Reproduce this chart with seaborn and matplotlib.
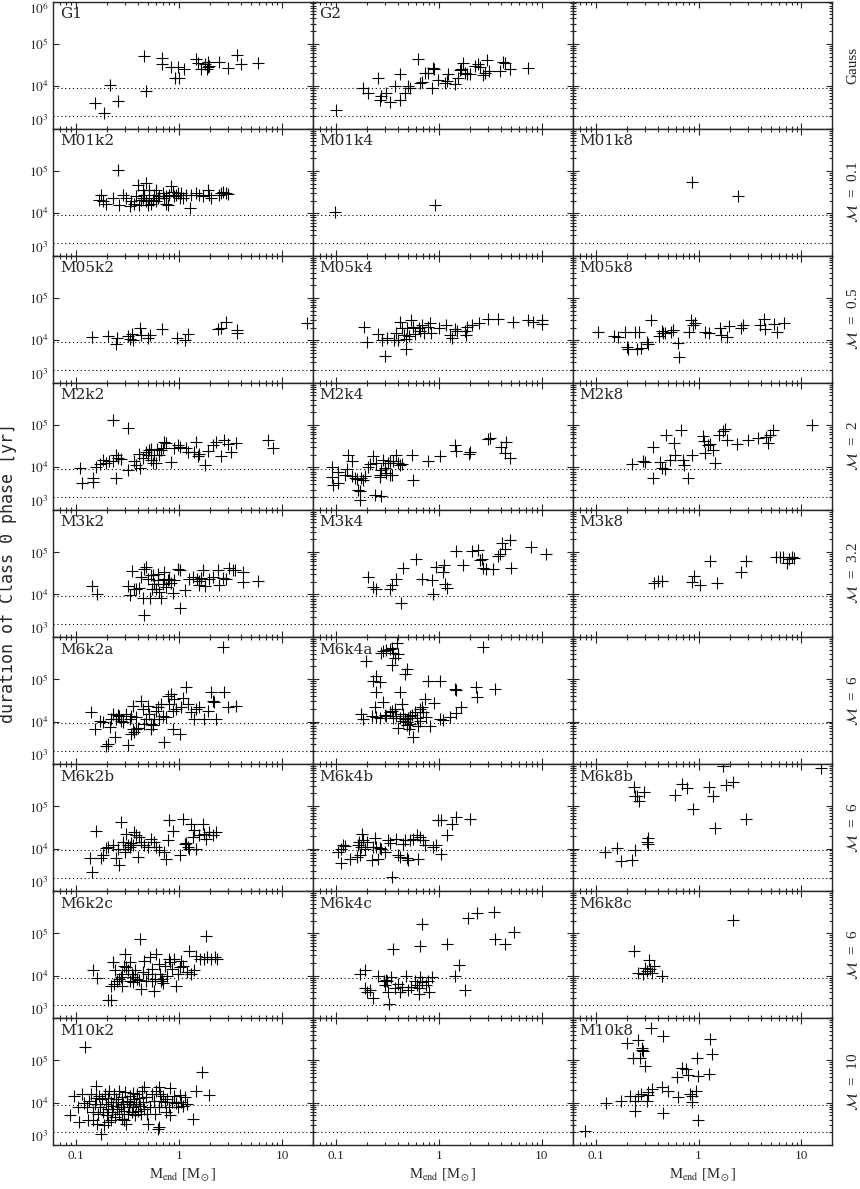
import matplotlib
matplotlib.use("Agg")
import numpy as np
import pandas as pd
import matplotlib.pyplot as plt
import seaborn as sns
from matplotlib.ticker import LogLocator, NullFormatter


# (M_end [Msun], duration [yr])

g1 = [(0.46, 5.1e4), (0.68, 4.7e4), (0.68, 3.3e4), (0.84, 2.9e4), (0.97, 2.8e4), (1.11, 2.6e4),
      (0.91, 1.6e4), (1.0, 1.6e4), (1.46, 4.3e4), (1.52, 3.6e4), (1.64, 2.5e4), (1.80, 3.3e4),
      (1.85, 2.5e4), (1.9, 2.8e4), (1.96, 3.0e4), (1.9, 3.8e4), (2.46, 3.8e4), (2.97, 2.7e4),
      (3.63, 5.4e4), (4.0, 3.4e4), (5.9, 3.6e4), (0.215, 1.07e4), (0.48, 7.6e3), (0.154, 4.0e3),
      (0.254, 4.4e3), (0.186, 2.3e3)]

g2 = [(0.1, 2.7e3), (0.184, 9.3e3), (0.206, 6.8e3), (0.258, 1.6e4), (0.277, 5.9e3), (0.27, 4.8e3),
      (0.306, 7.0e3), (0.334, 4.2e3), (0.374, 1.0e4), (0.418, 1.9e4), (0.42, 4.8e3), (0.468, 6.8e3),
      (0.50, 1.0e4), (0.52, 9.3e3), (0.63, 4.5e4), (0.65, 1.2e4), (0.68, 1.25e4), (0.73, 2.1e4),
      (0.79, 2.0e4), (0.88, 2.7e4), (0.90, 2.6e4), (0.85, 9.3e3), (0.99, 1.4e4), (1.14, 1.2e4),
      (1.19, 1.35e4), (1.23, 1.9e4), (1.45, 1.1e4), (1.54, 1.6e4), (1.66, 2.5e4), (1.72, 3.6e4),
      (1.79, 2.1e4), (1.86, 1.9e4), (2.0, 1.9e4), (2.24, 3.0e4), (2.4, 3.3e4), (2.5, 2.8e4),
      (2.7, 1.8e4), (2.8, 2.1e4), (2.95, 4.1e4), (3.1, 2.3e4), (3.9, 2.3e4), (4.2, 3.8e4),
      (4.4, 3.6e4), (4.9, 2.5e4), (7.4, 2.7e4), (1.6, 2.4e4)]

m01k2 = [(0.254, 1.05e5), (0.175, 2.7e4), (0.181, 1.9e4), (0.196, 1.7e4), (0.168, 2.1e4), (0.227, 2.3e4),
         (0.263, 1.6e4), (0.284, 2.7e4), (0.306, 2.3e4), (0.33, 1.45e4), (0.342, 1.9e4), (0.368, 1.7e4),
         (0.383, 2.5e4), (0.412, 1.6e4), (0.428, 2.1e4), (0.444, 3.6e4), (0.461, 2.7e4), (0.478, 5.1e4),
         (0.478, 1.9e4), (0.496, 1.6e4), (0.515, 2.3e4), (0.535, 1.7e4), (0.555, 2.1e4), (0.576, 2.7e4),
         (0.598, 1.9e4), (0.621, 2.3e4), (0.644, 2.5e4), (0.694, 3.0e4), (0.72, 2.3e4), (0.747, 1.7e4),
         (0.776, 1.6e4), (0.805, 2.7e4), (0.836, 4.3e4), (0.868, 3.25e4), (0.90, 2.5e4), (0.935, 2.7e4),
         (0.97, 3.0e4), (1.01, 2.3e4), (1.045, 3.0e4), (1.086, 2.3e4), (1.17, 2.7e4), (1.28, 1.35e4),
         (1.31, 2.7e4), (1.46, 3.0e4), (1.57, 2.7e4), (1.70, 2.5e4), (1.90, 3.6e4), (1.97, 2.7e4),
         (2.05, 2.35e4), (2.46, 2.7e4), (2.56, 3.0e4), (2.65, 3.25e4), (2.86, 3.0e4), (2.97, 2.8e4),
         (0.397, 4.7e4), (0.515, 3.6e4), (0.598, 3.6e4), (0.747, 2.6e4), (0.444, 2.3e4)]

m01k4 = [(0.098, 1.1e4), (0.91, 1.55e4)]

m01k8 = [(0.86, 5.6e4), (2.44, 2.6e4)]

m05k2 = [(0.143, 1.2e4), (0.202, 1.28e4), (0.242, 8.3e3), (0.248, 1.13e4), (0.318, 1.24e4), (0.331, 1.07e4),
         (0.345, 1.43e4), (0.36, 1.0e4), (0.417, 1.94e4), (0.424, 1.36e4), (0.50, 1.13e4), (0.52, 1.36e4),
         (0.684, 1.84e4), (0.95, 1.13e4), (1.14, 1.04e4), (1.22, 1.43e4), (2.4, 1.84e4), (2.55, 1.94e4),
         (2.87, 2.76e4), (3.62, 1.71e4), (3.68, 1.53e4), (17.4, 2.6e4)]

m05k4 = [(0.189, 2.04e4), (0.2, 9.0e3), (0.256, 1.43e4), (0.278, 1.0e4), (0.302, 4.2e3), (0.315, 1.13e4),
         (0.371, 1.0e4), (0.387, 1.48e4), (0.403, 1.0e4), (0.42, 2.76e4), (0.438, 1.94e4), (0.456, 1.36e4),
         (0.476, 6.1e3), (0.476, 1.07e4), (0.496, 1.94e4), (0.517, 1.24e4), (0.538, 3.0e4), (0.561, 2.1e4),
         (0.585, 1.43e4), (0.635, 1.94e4), (0.662, 1.62e4), (0.69, 2.3e4), (0.719, 1.53e4), (0.78, 2.1e4),
         (0.813, 2.53e4), (0.847, 1.48e4), (1.0, 1.94e4), (1.18, 2.3e4), (1.28, 1.36e4), (1.33, 1.13e4),
         (1.45, 1.84e4), (1.51, 1.7e4), (1.78, 1.62e4), (1.83, 1.36e4), (1.89, 2.1e4), (2.1, 2.3e4),
         (2.48, 2.53e4), (3.0, 3.2e4), (3.74, 3.2e4), (5.3, 2.76e4), (7.4, 3.1e4), (8.2, 2.76e4),
         (10.0, 3.1e4), (10.0, 2.44e4)]

m05k8 = [(0.106, 1.6e4), (0.152, 1.29e4), (0.164, 1.18e4), (0.193, 1.6e4), (0.2, 7.1e3), (0.205, 6.1e3),
         (0.241, 1.54e4), (0.25, 6.1e3), (0.264, 1.6e4), (0.276, 6.5e3), (0.313, 9.3e3), (0.32, 8.2e3),
         (0.344, 3.0e4), (0.412, 1.26e4), (0.437, 1.69e4), (0.454, 1.46e4), (0.471, 1.51e4), (0.539, 1.6e4),
         (0.568, 1.75e4), (0.635, 8.5e3), (0.644, 4.0e3), (0.806, 1.54e4), (0.843, 3.0e4), (0.921, 2.6e4),
         (0.888, 2.29e4), (1.15, 1.54e4), (1.26, 1.46e4), (1.61, 2.0e4), (1.65, 1.33e4), (1.87, 1.22e4),
         (1.97, 2.17e4), (2.61, 2.0e4), (2.71, 2.29e4), (3.94, 2.29e4), (4.34, 3.16e4), (4.41, 1.81e4),
         (5.43, 2.4e4), (5.72, 1.54e4), (6.79, 2.6e4)]

m2k2 = [(0.23, 1.31e5), (0.322, 8.7e4), (0.108, 9.6e3), (0.114, 4.3e3), (0.145, 5.6e3), (0.147, 4.5e3),
        (0.156, 1.05e4), (0.169, 1.2e4), (0.181, 1.51e4), (0.193, 1.26e4), (0.207, 1.43e4), (0.227, 1.38e4),
        (0.244, 1.91e4), (0.254, 1.66e4), (0.244, 5.6e3), (0.273, 1.6e4), (0.317, 8.8e3), (0.368, 1.43e4),
        (0.383, 1.11e4), (0.418, 9.6e3), (0.412, 2.05e4), (0.444, 1.66e4), (0.478, 2.37e4), (0.496, 1.91e4),
        (0.515, 2.59e4), (0.535, 1.51e4), (0.555, 1.26e4), (0.576, 1.98e4), (0.598, 1.26e4), (0.635, 1.98e4),
        (0.669, 2.59e4), (0.694, 2.94e4), (0.72, 4.06e4), (0.747, 3.71e4), (0.836, 1.33e4), (0.90, 2.84e4),
        (0.97, 3.4e4), (1.17, 2.84e4), (1.21, 2.29e4), (1.46, 4.06e4), (1.52, 1.81e4), (1.57, 2.05e4),
        (1.8, 1.11e4), (1.9, 2.46e4), (2.12, 3.4e4), (2.29, 4.06e4), (2.56, 1.81e4), (2.75, 4.44e4),
        (2.97, 3.52e4), (3.2, 2.37e4), (3.57, 3.71e4), (7.26, 4.44e4), (8.11, 2.94e4), (1.02, 3.05e4),
        (1.41, 2.37e4), (0.535, 2.74e4), (0.607, 2.74e4)]

m2k4 = [(0.091, 1.05e4), (0.091, 5.8e3), (0.094, 3.8e3), (0.105, 4.3e3), (0.105, 7.8e3), (0.122, 6.5e3),
        (0.127, 9.3e3), (0.132, 1.98e4), (0.142, 1.43e4), (0.145, 6.15e3), (0.153, 5.6e3), (0.159, 5.4e3),
        (0.165, 3.0e3), (0.171, 2.74e3), (0.171, 1.66e3), (0.177, 5.6e3), (0.184, 5.1e3), (0.191, 6.15e3),
        (0.206, 1.05e4), (0.214, 1.2e4), (0.23, 1.81e4), (0.239, 2.29e3), (0.248, 1.26e4), (0.267, 6.7e3),
        (0.267, 5.8e3), (0.272, 2.09e3), (0.277, 8.8e3), (0.288, 1.51e4), (0.299, 9.6e3), (0.31, 7.4e3),
        (0.322, 1.26e4), (0.334, 6.5e3), (0.347, 6.7e3), (0.334, 1.38e4), (0.36, 1.43e4), (0.383, 1.91e4),
        (0.403, 1.26e4), (0.418, 1.15e4), (0.434, 1.2e4), (0.543, 1.98e4), (0.563, 5.1e3), (0.788, 1.38e4),
        (1.02, 1.81e4), (1.43, 3.4e4), (1.48, 2.46e4), (1.97, 2.05e4), (2.0, 2.37e4), (3.01, 4.7e4),
        (3.13, 4.87e4), (4.06, 3.1e4), (4.37, 2.17e4), (4.54, 4.06e4), (4.89, 1.71e4)]

m2k8 = [(0.224, 1.18e4), (0.29, 1.41e4), (0.301, 1.33e4), (0.363, 3.05e4), (0.363, 5.7e3), (0.421, 1.33e4),
        (0.444, 9.8e3), (0.471, 9.0e3), (0.478, 5.9e4), (0.527, 1.49e4), (0.58, 3.8e4), (0.589, 2.0e4),
        (0.674, 7.5e4), (0.71, 1.49e4), (0.726, 1.11e4), (0.794, 5.7e3), (0.855, 1.91e4), (1.11, 5.6e4),
        (1.14, 4.1e4), (1.15, 2.2e4), (1.24, 3.3e4), (1.29, 3.65e4), (1.39, 2.64e4), (1.44, 1.29e4),
        (1.58, 5.9e4), (1.73, 7.1e4), (1.8, 8.1e4), (1.91, 4.4e4), (2.34, 3.65e4), (3.03, 4.4e4),
        (3.74, 5.0e4), (4.57, 5.2e4), (4.75, 3.8e4), (4.93, 5.9e4), (5.31, 7.8e4), (12.7, 1.0e5)]

m3k2 = [(0.143, 1.6e4), (0.159, 1.0e4), (0.317, 1.6e4), (0.33, 9.6e3), (0.35, 3.52e4), (0.368, 1.33e4),
        (0.383, 1.38e4), (0.406, 1.43e4), (0.428, 2.59e4), (0.444, 8.4e3), (0.461, 4.06e4), (0.478, 4.44e4),
        (0.496, 2.37e4), (0.523, 8.1e3), (0.547, 1.33e4), (0.563, 2.84e4), (0.576, 1.81e4), (0.598, 1.38e4),
        (0.621, 2.17e4), (0.644, 1.15e4), (0.669, 8.4e3), (0.694, 1.81e4), (0.72, 3.4e4), (0.72, 2.37e4),
        (0.747, 1.51e4), (0.776, 2.17e4), (0.805, 2.37e4), (0.836, 1.91e4), (0.868, 1.11e4), (0.90, 2.17e4),
        (0.97, 4.06e4), (1.01, 3.71e4), (1.02, 4.9e3), (1.13, 1.26e4), (1.26, 2.37e4), (1.36, 2.59e4),
        (1.48, 2.37e4), (1.55, 2.05e4), (1.64, 2.46e4), (1.70, 3.71e4), (1.8, 1.6e4), (1.94, 2.37e4),
        (2.12, 2.59e4), (2.37, 3.71e4), (2.46, 1.66e4), (2.69, 2.46e4), (2.86, 2.37e4), (3.08, 4.22e4),
        (3.32, 3.71e4), (3.52, 3.71e4), (4.15, 3.4e4), (4.15, 1.98e4), (5.8, 2.09e4), (0.461, 3.3e3),
        (1.57, 1.66e4), (0.535, 2.84e4), (0.621, 3.1e4)]

m3k4 = [(0.206, 2.59e4), (0.23, 1.51e4), (0.244, 1.38e4), (0.334, 1.38e4), (0.347, 1.66e4), (0.383, 2.37e4),
        (0.425, 6.15e3), (0.451, 4.22e4), (0.598, 7.0e4), (0.694, 2.37e4), (0.849, 2.17e4), (0.881, 1.05e4),
        (0.935, 4.44e4), (1.10, 3.4e4), (1.12, 5.0e4), (1.14, 1.81e4), (1.21, 1.43e4), (1.48, 1.09e5),
        (1.70, 5.0e4), (2.12, 1.09e5), (2.41, 1.15e5), (2.5, 6.4e4), (2.6, 7.0e4), (2.69, 4.22e4),
        (2.9, 3.93e4), (3.37, 3.93e4), (3.77, 8.06e4), (3.91, 9.1e4), (4.15, 1.66e5), (4.37, 1.2e5),
        (4.89, 1.88e5), (5.08, 4.22e4), (7.94, 1.31e5), (11.1, 9.1e4)]

m3k8 = [(0.371, 1.85e4), (0.406, 2.13e4), (0.444, 2.13e4), (0.868, 2.0e4), (0.907, 2.74e4), (1.03, 1.69e4),
        (1.29, 6.3e4), (1.5, 1.91e4), (2.58, 3.3e4), (2.92, 6.3e4), (5.6, 7.8e4), (6.17, 7.8e4),
        (6.64, 7.5e4), (7.31, 5.6e4), (7.54, 6.7e4), (8.0, 7.8e4), (8.5, 7.1e4)]

m6k2a = [(2.65, 5.8e5), (0.14, 1.71e4), (0.151, 6.5e3), (0.169, 1.05e4), (0.181, 9.6e3), (0.196, 2.64e3),
         (0.203, 3.0e3), (0.211, 7.4e3), (0.219, 1.15e4), (0.227, 1.51e4), (0.236, 4.3e3), (0.244, 1.15e4),
         (0.254, 1.43e4), (0.263, 1.33e4), (0.273, 1.05e4), (0.284, 9.6e3), (0.306, 1.51e4), (0.317, 2.84e3),
         (0.33, 1.15e4), (0.342, 5.1e3), (0.355, 6.7e3), (0.368, 5.8e3), (0.383, 6.5e3), (0.397, 7.0e3),
         (0.342, 1.38e4), (0.355, 2.37e4), (0.383, 1.26e4), (0.428, 3.1e4), (0.444, 1.98e4), (0.478, 1.15e4),
         (0.515, 1.51e4), (0.535, 8.8e3), (0.555, 8.1e3), (0.576, 1.15e4), (0.598, 1.81e4), (0.621, 2.17e4),
         (0.644, 1.15e4), (0.669, 2.59e4), (0.694, 1.33e4), (0.72, 3.3e3), (0.747, 1.26e4), (0.776, 4.06e4),
         (0.805, 2.59e4), (0.836, 4.44e4), (0.868, 1.81e4), (0.868, 6.7e3), (0.90, 3.4e4), (0.935, 1.98e4),
         (1.01, 5.1e3), (1.045, 2.17e4), (1.086, 3.52e4), (1.17, 6.4e4), (1.21, 2.59e4), (1.31, 1.66e4),
         (1.41, 1.15e4), (1.46, 1.98e4), (1.57, 2.17e4), (1.76, 1.15e4), (1.9, 1.81e4), (2.05, 4.87e4),
         (2.12, 3.1e4), (2.2, 2.84e4), (2.29, 1.15e4), (2.75, 4.87e4), (2.97, 2.17e4), (3.57, 2.37e4),
         (0.461, 8.8e3), (0.535, 6.7e3), (0.496, 2.37e4)]

m6k4a = [(0.196, 2.69e5), (0.23, 9.1e4), (0.248, 1.2e5), (0.267, 8.4e4), (0.277, 4.2e5), (0.288, 4.6e5),
         (0.31, 5.0e5), (0.334, 5.2e5), (0.347, 5.5e5), (0.36, 4.2e5), (0.374, 3.2e5), (0.347, 2.13e5),
         (0.394, 7.0e5), (0.403, 3.86e5), (0.468, 1.31e5), (0.486, 1.71e5), (0.788, 9.1e4), (1.02, 9.1e4),
         (2.69, 5.8e5), (1.43, 5.8e4), (1.48, 5.6e4), (2.32, 6.4e4), (2.36, 3.71e4), (3.5, 5.8e4),
         (0.244, 4.87e4), (0.418, 4.87e4), (0.177, 1.51e4), (0.184, 1.15e4), (0.222, 1.38e4), (0.239, 2.17e4),
         (0.248, 1.26e4), (0.267, 1.2e4), (0.288, 2.84e4), (0.299, 1.43e4), (0.31, 1.33e4), (0.334, 1.71e4),
         (0.347, 1.81e4), (0.36, 1.2e4), (0.374, 1.98e4), (0.388, 1.33e4), (0.403, 7.0e3), (0.418, 1.2e4),
         (0.434, 2.59e4), (0.451, 1.51e4), (0.468, 1.15e4), (0.486, 9.6e3), (0.493, 8.1e3), (0.504, 1.2e4),
         (0.515, 6.7e3), (0.523, 1.33e4), (0.543, 1.43e4), (0.563, 4.3e3), (0.585, 1.71e4), (0.607, 1.2e4),
         (0.63, 7.8e3), (0.654, 1.98e4), (0.679, 2.17e4), (0.705, 1.66e4), (0.731, 3.4e4), (0.748, 1.26e4),
         (0.818, 7.8e3), (0.894, 2.74e4), (1.02, 1.15e4), (1.10, 1.11e4), (1.28, 1.26e4), (1.48, 1.6e4),
         (1.66, 2.17e4), (0.523, 8.8e3), (0.451, 1.05e4), (0.654, 1.05e4)]

m6k2b = [(0.143, 2.84e3), (0.137, 6.0e3), (0.156, 2.55e4), (0.175, 6.0e3), (0.181, 7.0e3), (0.193, 1.04e4),
         (0.203, 1.09e4), (0.227, 1.2e4), (0.244, 6.0e3), (0.254, 1.0e4), (0.263, 4.1e3), (0.273, 4.22e4),
         (0.284, 1.43e4), (0.295, 9.6e3), (0.301, 8.4e3), (0.306, 2.25e4), (0.317, 1.2e4), (0.33, 1.09e4),
         (0.342, 1.38e4), (0.355, 1.2e4), (0.368, 2.46e4), (0.383, 2.05e4), (0.397, 6.4e3), (0.412, 1.88e4),
         (0.428, 1.43e4), (0.461, 1.2e4), (0.496, 1.09e4), (0.535, 1.71e4), (0.576, 1.43e4), (0.598, 1.09e4),
         (0.644, 9.1e3), (0.72, 8.4e3), (0.747, 5.8e3), (0.776, 1.57e4), (0.805, 4.6e4), (0.868, 2.55e4),
         (1.01, 7.0e3), (1.086, 5.05e4), (1.13, 1.31e4), (1.17, 1.38e4), (1.21, 1.09e4), (1.26, 1.0e4),
         (1.31, 3.86e4), (1.36, 1.88e4), (1.41, 2.69e4), (1.46, 1.0e4), (1.57, 2.05e4), (1.70, 3.86e4),
         (1.76, 2.25e4), (1.83, 1.71e4), (1.97, 2.46e4), (2.12, 2.05e4), (2.29, 2.46e4)]

m6k4b = [(0.105, 8.4e3), (0.111, 4.45e3), (0.113, 9.6e3), (0.118, 1.24e4), (0.122, 1.15e4), (0.137, 5.8e3),
         (0.159, 6.4e3), (0.165, 1.2e4), (0.169, 1.43e4), (0.171, 7.0e3), (0.177, 1.09e4), (0.181, 2.25e4),
         (0.184, 1.57e4), (0.191, 1.0e4), (0.199, 1.43e4), (0.222, 5.3e3), (0.23, 1.09e4), (0.239, 1.78e4),
         (0.248, 1.09e4), (0.258, 5.8e3), (0.267, 1.04e4), (0.277, 9.6e3), (0.299, 8.4e3), (0.322, 1.57e4),
         (0.334, 1.38e4), (0.347, 2.17e3), (0.388, 1.71e4), (0.403, 7.0e3), (0.418, 6.4e3), (0.451, 1.31e4),
         (0.468, 1.57e4), (0.486, 6.0e3), (0.504, 5.3e3), (0.523, 1.57e4), (0.563, 1.71e4), (0.63, 5.8e3),
         (0.607, 2.05e4), (0.654, 1.88e4), (0.705, 1.57e4), (0.731, 1.24e4), (0.881, 1.09e4), (0.949, 1.24e4),
         (1.06, 7.6e3), (0.985, 4.6e4), (1.04, 4.6e4), (1.19, 2.13e4), (1.33, 3.86e4), (1.48, 5.5e4),
         (2.0, 4.87e4)]

m6k8b = [(0.123, 8.5e3), (0.16, 1.05e4), (0.176, 5.1e3), (0.224, 5.4e3), (0.241, 9.1e3), (0.237, 2.79e5),
         (0.241, 1.71e5), (0.25, 1.71e5), (0.264, 1.31e5), (0.297, 2.17e5), (0.313, 1.46e4), (0.32, 1.75e4),
         (0.325, 1.31e4), (0.589, 1.88e5), (0.694, 3.3e5), (0.765, 2.69e5), (0.888, 8.8e4), (1.26, 2.79e5),
         (1.39, 1.71e5), (1.44, 3.1e4), (1.83, 3.2e5), (2.17, 3.7e5), (2.92, 5.1e4), (1.73, 9.1e5),
         (15.6, 8.2e5)]

m6k2c = [(0.145, 1.36e4), (0.16, 8.8e3), (0.205, 2.6e3), (0.216, 2.69e3), (0.219, 5.8e3), (0.229, 2.05e4),
         (0.234, 6.4e3), (0.238, 1.36e4), (0.248, 7.4e3), (0.259, 8.4e3), (0.27, 9.5e3), (0.281, 1.09e4),
         (0.293, 1.71e4), (0.3, 3.2e4), (0.305, 1.57e4), (0.318, 1.36e4), (0.332, 7.4e3), (0.337, 2.05e4),
         (0.346, 1.09e4), (0.36, 9.5e3), (0.375, 1.36e4), (0.391, 8.4e3), (0.408, 7.9e3), (0.418, 7.2e4),
         (0.425, 4.87e3), (0.443, 1.2e4), (0.461, 2.25e4), (0.481, 7.4e3), (0.501, 1.09e4), (0.522, 2.79e4),
         (0.545, 1.43e4), (0.568, 4.3e3), (0.582, 8.4e3), (0.602, 3.2e4), (0.632, 1.88e4), (0.653, 1.09e4),
         (0.67, 7.4e3), (0.698, 6.6e3), (0.728, 1.71e4), (0.758, 1.0e4), (0.79, 2.46e4), (0.824, 2.05e4),
         (0.859, 1.43e4), (0.895, 2.46e4), (0.932, 5.8e3), (0.971, 1.09e4), (1.01, 1.57e4), (1.055, 2.25e4),
         (1.1, 1.71e4), (1.19, 1.2e4), (1.24, 3.86e4), (1.3, 1.09e4), (1.41, 1.36e4), (1.47, 2.94e4),
         (1.6, 2.46e4), (1.73, 2.46e4), (1.81, 8.7e4), (1.88, 2.69e4), (2.05, 2.46e4), (2.22, 2.69e4),
         (2.31, 2.46e4), (0.545, 7.6e3), (0.681, 8.4e3), (0.281, 5.8e3), (0.36, 7.0e3)]

m6k4c = [(0.173, 1.09e4), (0.193, 1.36e4), (0.193, 5.1e3), (0.201, 4.1e3), (0.215, 4.45e3), (0.228, 3.0e3),
         (0.258, 1.0e4), (0.291, 7.4e3), (0.303, 6.15e3), (0.308, 7.9e3), (0.316, 7.4e3), (0.324, 4.1e3),
         (0.33, 2.17e3), (0.343, 9.1e3), (0.358, 4.22e4), (0.373, 5.1e3), (0.405, 6.4e3), (0.422, 4.1e3),
         (0.44, 5.5e3), (0.477, 1.0e4), (0.497, 4.45e3), (0.531, 5.3e3), (0.586, 7.4e3), (0.611, 6.15e3),
         (0.636, 5.1e3), (0.647, 3.7e3), (0.663, 9.5e3), (0.691, 7.0e3), (0.691, 1.63e5), (0.663, 5.05e4),
         (0.75, 6.15e3), (0.781, 7.4e3), (0.801, 4.1e3), (0.849, 9.1e3), (1.21, 5.7e4), (1.42, 1.0e4),
         (1.57, 1.81e4), (1.78, 4.45e3), (1.93, 2.33e5), (2.37, 3.05e5), (3.43, 3.2e5), (3.52, 7.2e4),
         (4.4, 5.7e4), (5.4, 1.09e5)]

m6k8c = [(0.237, 3.8e4), (0.329, 2.29e4), (0.26, 1.18e4), (0.29, 1.07e4), (0.301, 1.54e4), (0.337, 1.41e4),
         (0.355, 1.18e4), (0.371, 1.69e4), (0.437, 9.8e3), (0.313, 1.29e4), (2.17, 2.09e5)]

m10k2 = [(0.088, 5.0e3), (0.096, 1.46e4), (0.104, 7.8e3), (0.107, 3.5e3), (0.113, 1.6e4), (0.118, 9.6e3),
         (0.128, 7.8e3), (0.131, 3.8e3), (0.134, 1.11e4), (0.139, 1.6e4), (0.145, 5.9e3), (0.151, 9.3e3),
         (0.155, 1.29e4), (0.157, 2.5e4), (0.164, 5.4e3), (0.168, 1.46e4), (0.171, 7.8e3), (0.174, 1.85e3),
         (0.178, 1.22e4), (0.183, 5.9e3), (0.186, 2.9e3), (0.189, 1.6e4), (0.194, 9.3e3), (0.199, 5.0e3),
         (0.202, 7.1e3), (0.205, 1.29e4), (0.21, 1.91e4), (0.216, 3.8e3), (0.219, 1.02e4), (0.223, 5.9e3),
         (0.229, 8.5e3), (0.234, 1.6e4), (0.238, 4.5e3), (0.242, 1.22e4), (0.248, 7.1e3), (0.255, 1.02e4),
         (0.259, 1.91e4), (0.263, 5.4e3), (0.27, 7.8e3), (0.277, 1.33e4), (0.281, 4.1e3), (0.286, 9.3e3),
         (0.293, 6.5e3), (0.3, 1.75e4), (0.305, 3.2e3), (0.31, 1.11e4), (0.318, 5.4e3), (0.326, 7.8e3),
         (0.332, 1.46e4), (0.337, 1.02e4), (0.346, 5.9e3), (0.354, 1.66e4), (0.36, 7.8e3), (0.366, 1.22e4),
         (0.375, 5.0e3), (0.385, 9.3e3), (0.391, 1.6e4), (0.398, 6.5e3), (0.408, 1.29e4), (0.418, 8.5e3),
         (0.425, 5.4e3), (0.432, 1.91e4), (0.443, 1.02e4), (0.454, 2.37e4), (0.461, 7.1e3), (0.481, 1.33e4),
         (0.493, 5.4e3), (0.501, 3.2e3), (0.522, 7.8e3), (0.545, 1.6e4), (0.568, 1.07e4), (0.582, 5.4e3),
         (0.592, 1.91e4), (0.617, 2.4e3), (0.632, 7.8e3), (0.643, 2.29e4), (0.653, 1.6e4), (0.67, 1.11e4),
         (0.698, 1.46e4), (0.728, 1.02e4), (0.746, 5.9e3), (0.771, 1.22e4), (0.79, 7.8e3), (0.809, 2.21e4),
         (0.824, 5.0e3), (0.859, 1.02e4), (0.895, 1.46e4), (0.932, 9.6e3), (0.971, 7.8e3), (1.01, 1.54e4),
         (1.055, 1.02e4), (1.1, 8.5e3), (1.15, 1.33e4), (1.19, 9.3e3), (1.35, 4.1e3), (1.47, 1.91e4),
         (1.66, 5.4e4), (1.96, 1.51e4), (0.123, 2.05e5), (0.643, 2.64e3), (0.202, 3.5e3), (0.293, 3.8e3),
         (0.145, 3.8e3), (0.16, 3.2e3)]

m10k8 = [(0.079, 2.13e3), (0.125, 9.6e3), (0.176, 1.07e4), (0.2, 2.59e5), (0.215, 1.46e4), (0.232, 1.11e5),
         (0.241, 1.07e4), (0.244, 6.5e3), (0.256, 1.46e4), (0.26, 2.94e5), (0.269, 1.15e5), (0.276, 1.6e4),
         (0.28, 1.98e5), (0.284, 1.71e5), (0.29, 1.66e5), (0.301, 7.4e4), (0.313, 1.07e4), (0.32, 1.54e4),
         (0.325, 1.75e4), (0.344, 5.8e5), (0.35, 2.09e4), (0.437, 2.29e4), (0.454, 3.7e5), (0.454, 5.6e3),
         (0.508, 1.91e4), (0.625, 1.33e4), (0.611, 4.06e4), (0.684, 6.7e4), (0.748, 6.15e4), (0.782, 4.53e4),
         (0.824, 1.6e4), (0.855, 1.02e4), (0.855, 1.46e4), (0.935, 1.85e4), (0.956, 1.15e5), (0.993, 4.3e4),
         (0.977, 3.8e3), (1.29, 3.1e5), (1.34, 1.43e5), (1.26, 4.87e4)]

panel_names = [
    ["G1", "G2", None],
    ["M01k2", "M01k4", "M01k8"],
    ["M05k2", "M05k4", "M05k8"],
    ["M2k2", "M2k4", "M2k8"],
    ["M3k2", "M3k4", "M3k8"],
    ["M6k2a", "M6k4a", None],
    ["M6k2b", "M6k4b", "M6k8b"],
    ["M6k2c", "M6k4c", "M6k8c"],
    ["M10k2", None, "M10k8"],
]

row_labels = ["Gauss", r"$\mathcal{M}$  =  0.1", r"$\mathcal{M}$  =  0.5", r"$\mathcal{M}$  =  2",
              r"$\mathcal{M}$  =  3.2", r"$\mathcal{M}$  =  6", r"$\mathcal{M}$  =  6",
              r"$\mathcal{M}$  =  6", r"$\mathcal{M}$  =  10"]

ref_lines = [9.0e3, 2.0e3]

x_ticks = [0.1, 1, 10]
x_tick_labels = ["0.1", "1", "10"]
y_ticks = [1e3, 1e4, 1e5, 1e6]

panel_data = {
    "G1": g1, "G2": g2,
    "M01k2": m01k2, "M01k4": m01k4, "M01k8": m01k8,
    "M05k2": m05k2, "M05k4": m05k4, "M05k8": m05k8,
    "M2k2": m2k2, "M2k4": m2k4, "M2k8": m2k8,
    "M3k2": m3k2, "M3k4": m3k4, "M3k8": m3k8,
    "M6k2a": m6k2a, "M6k4a": m6k4a,
    "M6k2b": m6k2b, "M6k4b": m6k4b, "M6k8b": m6k8b,
    "M6k2c": m6k2c, "M6k4c": m6k4c, "M6k8c": m6k8c,
    "M10k2": m10k2, "M10k8": m10k8,
}

sns.set_style("ticks")
plt.rcParams["font.family"] = ["Liberation Serif", "DejaVu Serif"]
plt.rcParams["mathtext.fontset"] = "stix"

fig, axes = plt.subplots(9, 3, figsize=(8.6, 11.89), dpi=100)
fig.subplots_adjust(left=0.062, right=0.968, top=0.9987, bottom=0.037, hspace=0, wspace=0)

for r in range(9):
    for c in range(3):
        ax = axes[r, c]
        ax.set_xscale("log")
        ax.set_yscale("log")

        name = panel_names[r][c]
        if name is not None:
            df = pd.DataFrame(panel_data[name], columns=["mass", "duration"])
            sns.scatterplot(data=df, x="mass", y="duration", marker="+", s=64,
                            color="k", linewidth=0.8, legend=False, ax=ax)
            ax.text(0.025, 0.955, name, transform=ax.transAxes, ha="left", va="top",
                    fontsize=11, family="DejaVu Serif")

        for lvl in ref_lines:
            ax.axhline(lvl, ls=(0, (1, 2.5)), lw=0.8, color="k")

        ax.set_xlim(0.06, 20)
        ax.set_ylim(1e3, 1e6)
        ax.set_xlabel("")
        ax.set_ylabel("")

        ax.set_xticks(x_ticks)
        ax.xaxis.set_minor_locator(LogLocator(base=10, subs=np.arange(2, 10)))
        ax.xaxis.set_minor_formatter(NullFormatter())
        ax.set_yticks(y_ticks)
        ax.yaxis.set_minor_locator(LogLocator(base=10, subs=np.arange(2, 10)))
        ax.yaxis.set_minor_formatter(NullFormatter())

        ax.tick_params(which="both", direction="in", top=True, right=True, width=0.8,
                       labelsize=9.5)
        ax.tick_params(which="major", length=4.5)
        ax.tick_params(which="minor", length=2.2)

        if r == 8:
            ax.set_xticklabels(x_tick_labels)
            ax.set_xlabel(r"M$_{\rm end}$ [M$_\odot$]", fontsize=10.5, labelpad=3)
        else:
            ax.tick_params(labelbottom=False)

        if c == 0:
            labs = [r"$10^{3}$", r"$10^{4}$", r"$10^{5}$", r"$10^{6}$" if r == 0 else ""]
            ax.set_yticklabels(labs)
            tl = ax.get_yticklabels()
            tl[0].set_va("bottom")
            tl[3].set_va("top")
            ax.tick_params(which="minor", left=False)
        else:
            ax.tick_params(labelleft=False)

        for sp in ax.spines.values():
            sp.set_linewidth(1.0)

    axes[r, 2].text(1.078, 0.5, row_labels[r], transform=axes[r, 2].transAxes,
                    rotation=90, ha="center", va="center", fontsize=11)

fig.text(0.0095, 0.518, "duration of Class 0 phase [yr]", rotation=90,
         ha="center", va="center", fontsize=12, family="DejaVu Sans Mono")

fig.savefig("out.png", dpi=100)
